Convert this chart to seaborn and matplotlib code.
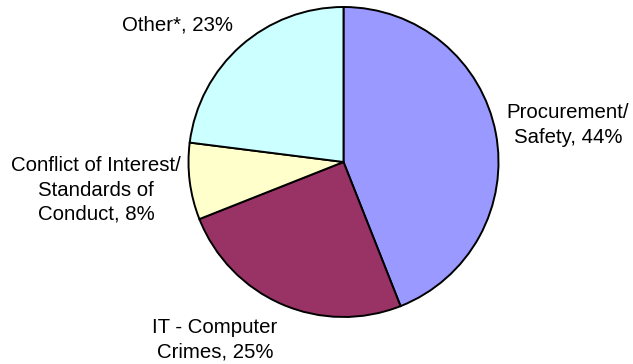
import matplotlib
matplotlib.use("Agg")
import matplotlib.pyplot as plt
import seaborn as sns

# Share of cases by category (percent), clockwise from 12 o'clock
categories = ["Procurement/\nSafety", "IT - Computer\nCrimes",
              "Conflict of Interest/\nStandards of\nConduct", "Other*"]
shares = [44, 25, 8, 23]
colors = ["#9999FF", "#993366", "#FFFFCC", "#CCFFFF"]

# Label anchor points in figure pixels (x from left, y from top)
label_xy = [(568, 125), (215, 340), (96, 190), (177, 25)]

sns.set_theme(style="white")
plt.rcParams["font.family"] = ["Liberation Sans", "DejaVu Sans"]

W, H = 633, 364
fig = plt.figure(figsize=(W / 100, H / 100), dpi=100)
ax = fig.add_axes([0, 0, 1, 1])

cx, cy, r = 343.5, H - 162, 155
ax.pie(shares, colors=colors, startangle=90, counterclock=False,
       center=(cx, cy), radius=r, frame=True,
       wedgeprops=dict(edgecolor="black", linewidth=1.4))
ax.set_xlim(0, W)
ax.set_ylim(0, H)
ax.set_aspect("equal")
ax.axis("off")

for cat, val, (lx, ly) in zip(categories, shares, label_xy):
    ax.text(lx, H - ly, f"{cat}, {val}%", ha="center", va="center",
            fontsize=14.7, color="black", linespacing=1.36)

fig.savefig("out.png", dpi=100, facecolor="white")
